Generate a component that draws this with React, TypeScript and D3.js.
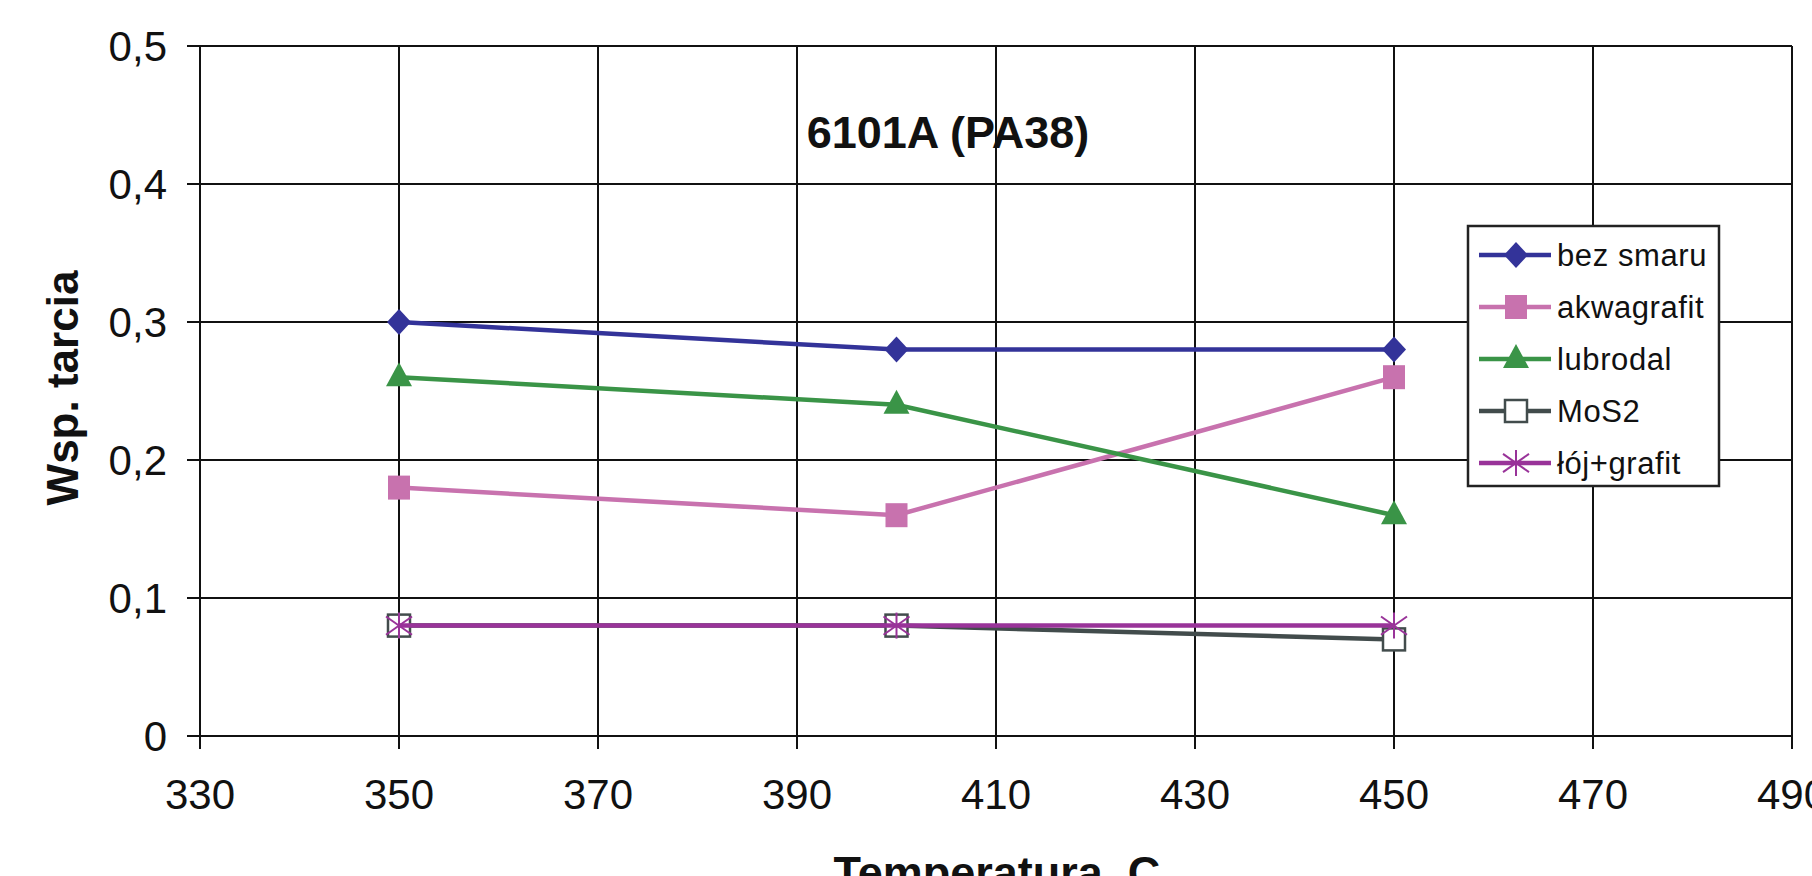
import React from 'react';
import * as d3 from 'd3';

const temps = [350, 400, 450];
const bezSmaru = [0.3, 0.28, 0.28];
const akwagrafit = [0.18, 0.16, 0.26];
const lubrodal = [0.26, 0.24, 0.16];
const mos2 = [0.08, 0.08, 0.07];
const lojGrafit = [0.08, 0.08, 0.08];

const xTicks = [330, 350, 370, 390, 410, 430, 450, 470, 490];
const yTicks = [0, 0.1, 0.2, 0.3, 0.4, 0.5];

const series = [
  { name: 'bez smaru', values: bezSmaru, color: '#333399', marker: 'diamond' },
  { name: 'akwagrafit', values: akwagrafit, color: '#c872ae', marker: 'square' },
  { name: 'lubrodal', values: lubrodal, color: '#3a9447', marker: 'triangle' },
  { name: 'MoS2', values: mos2, color: '#424c4c', marker: 'open' },
  { name: 'łój+grafit', values: lojGrafit, color: '#993399', marker: 'star' },
];

const W = 1812;
const H = 876;
const left = 200, right = 1792, top = 46, bottom = 736;

const Marker = ({ type, x, y, color }) => {
  if (type === 'diamond') {
    return <path d={`M${x},${y - 13}L${x + 12},${y}L${x},${y + 13}L${x - 12},${y}Z`} fill={color} />;
  }
  if (type === 'square') {
    return <rect x={x - 11} y={y - 12} width={22} height={24} fill={color} />;
  }
  if (type === 'triangle') {
    return <path d={`M${x},${y - 15}L${x + 13},${y + 9}L${x - 13},${y + 9}Z`} fill={color} />;
  }
  if (type === 'open') {
    return <rect x={x - 11} y={y - 11} width={22} height={22} fill="#fff" stroke={color} strokeWidth={2.5} />;
  }
  // star: vertical stroke plus an X
  const r = 13;
  return (
    <g stroke={color} strokeWidth={2}>
      <line x1={x} y1={y - r} x2={x} y2={y + r} />
      <line x1={x - r} y1={y - r * 0.7} x2={x + r} y2={y + r * 0.7} />
      <line x1={x - r} y1={y + r * 0.7} x2={x + r} y2={y - r * 0.7} />
    </g>
  );
};

export default function App() {
  const x = d3.scaleLinear().domain([330, 490]).range([left, right]);
  const y = d3.scaleLinear().domain([0, 0.5]).range([bottom, top]);
  const line = d3.line<number>()
    .x((_, i) => x(temps[i]))
    .y(d => y(d));

  const fmt = (v: number) => (v === 0 ? '0' : d3.format('.1f')(v).replace('.', ','));

  const legX = 1468, legY = 226, legW = 251, legH = 260;

  return (
    <svg width={W} height={H} style={{ position: 'absolute', left: 0, top: 0, background: '#fff' }}
      fontFamily="'Liberation Sans', Arial, sans-serif">
      <rect width={W} height={H} fill="#fff" />
      {/* grid + ticks */}
      {yTicks.map(t => (
        <g key={'y' + t}>
          <line x1={left - 13} x2={right} y1={y(t)} y2={y(t)} stroke="#111" strokeWidth={2} />
          <text x={left - 33} y={y(t)} dy="0.36em" textAnchor="end" fontSize={42} fill="#111">{fmt(t)}</text>
        </g>
      ))}
      {xTicks.map(t => (
        <g key={'x' + t}>
          <line x1={x(t)} x2={x(t)} y1={top} y2={bottom + 13} stroke="#111" strokeWidth={2} />
          <text x={x(t)} y={809} textAnchor="middle" fontSize={42} fill="#111">{t}</text>
        </g>
      ))}

      <text x={948} y={148} textAnchor="middle" fontSize={45} fontWeight="bold" fill="#111">6101A (PA38)</text>
      <text transform={`translate(78,388) rotate(-90)`} textAnchor="middle" fontSize={44} fontWeight="bold" fill="#111">Wsp. tarcia</text>
      <text x={997} y={888} textAnchor="middle" fontSize={45} fontWeight="bold" fill="#111">Temperatura, C</text>

      {series.map(s => (
        <g key={s.name}>
          <path d={line(s.values) || ''} fill="none" stroke={s.color} strokeWidth={4.5} />
          {s.values.map((v, i) => (
            <Marker key={i} type={s.marker} x={x(temps[i])} y={y(v)} color={s.color} />
          ))}
        </g>
      ))}

      {/* legend */}
      <rect x={legX} y={legY} width={legW} height={legH} fill="#fff" stroke="#222" strokeWidth={2.5} />
      {series.map((s, i) => {
        const ly = 255 + i * 52;
        return (
          <g key={'l' + s.name}>
            <line x1={1479} x2={1551} y1={ly} y2={ly} stroke={s.color} strokeWidth={4.5} />
            <Marker type={s.marker} x={1516} y={ly} color={s.color} />
            <text x={1557} y={ly} dy="0.35em" fontSize={31} letterSpacing={0.6} fill="#111">{s.name}</text>
          </g>
        );
      })}
    </svg>
  );
}
